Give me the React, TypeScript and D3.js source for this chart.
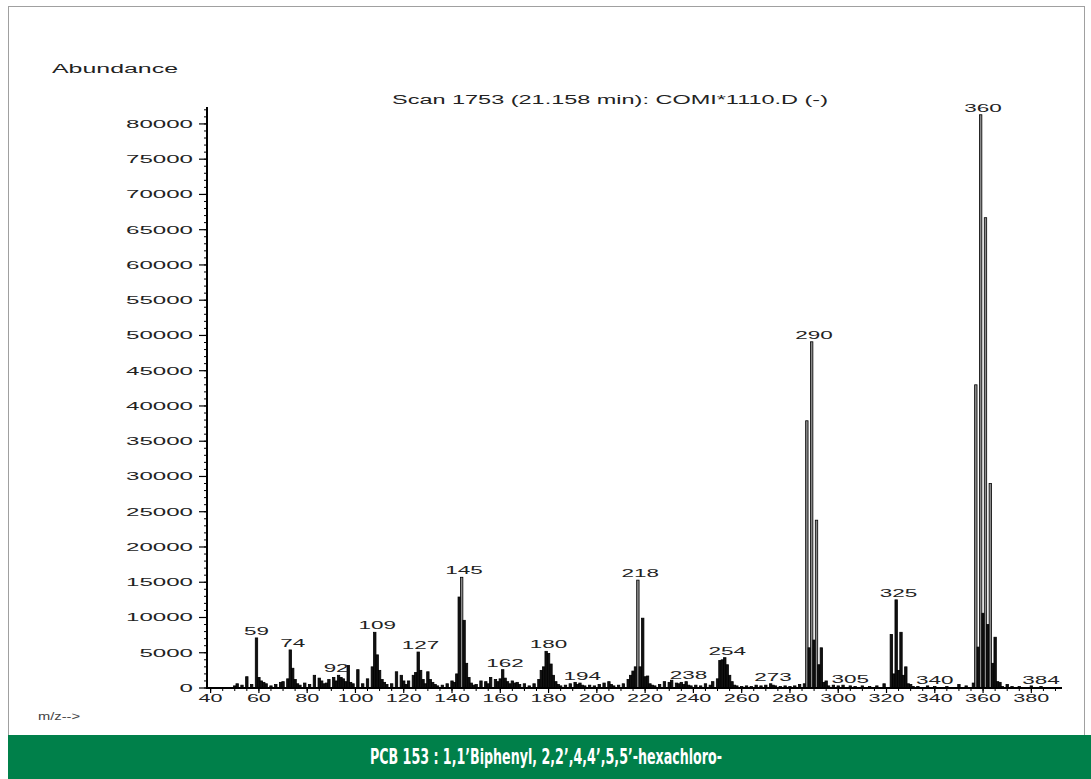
import * as d3 from "d3";

// m/z values and their abundance
const mz: number[] = [
  50, 51, 53, 55, 57, 59, 60, 61, 62, 63, 65, 67, 69, 70, 72, 73, 74, 75, 76, 77, 79, 81, 83, 85, 86, 87, 88, 89,
  91, 92, 93, 94, 95, 96, 97, 98, 99, 101, 103, 105, 107, 108, 109, 110, 111, 112, 113, 115, 117, 119, 120, 121,
  122, 124, 125, 126, 127, 128, 129, 130, 131, 132, 133, 134, 136, 138, 140, 141, 142, 143, 144, 145, 146, 147,
  148, 149, 150, 152, 154, 155, 156, 158, 159, 160, 161, 162, 163, 164, 165, 166, 167, 168, 170, 172, 174, 176,
  177, 178, 179, 180, 181, 182, 183, 184, 185, 187, 189, 191, 192, 193, 194, 195, 197, 199, 201, 203, 205, 206,
  207, 209, 211, 213, 214, 215, 216, 217, 218, 219, 220, 221, 222, 223, 224, 226, 228, 230, 231, 233, 234, 235,
  236, 237, 238, 239, 241, 243, 245, 247, 248, 250, 251, 252, 253, 254, 255, 256, 257, 258, 260, 262, 264, 266,
  268, 270, 272, 273, 274, 276, 278, 280, 282, 284, 286, 287, 288, 289, 290, 291, 292, 293, 294, 295, 296, 298,
  300, 302, 305, 307, 310, 313, 316, 319, 322, 323, 324, 325, 326, 327, 328, 329, 330, 331, 333, 337, 340, 345,
  350, 353, 356, 357, 358, 359, 360, 361, 362, 363, 364, 365, 366, 367, 368, 370, 372, 375, 380, 384, 388,
];
const abundance: number[] = [
  300, 600, 400, 1600, 500, 7100, 1500, 1000, 800, 600, 300, 500, 800, 900, 1300, 5400, 2800, 1200, 600, 400, 700,
  500, 1800, 1400, 1000, 600, 700, 1200, 1500, 1000, 1800, 1500, 1300, 900, 3200, 800, 600, 2600, 600, 1300, 3000,
  7900, 4700, 2500, 1200, 800, 500, 600, 2300, 1800, 1000, 500, 1000, 1800, 2200, 5100, 2500, 1200, 600, 2300,
  1200, 800, 500, 300, 400, 600, 1000, 800, 2000, 12900, 15700, 9600, 3500, 1500, 700, 400, 500, 1000, 900, 600,
  1500, 1200, 900, 1300, 2600, 1400, 900, 600, 1000, 700, 800, 500, 600, 300, 600, 1200, 2500, 3000, 5200, 4900,
  3400, 1800, 900, 500, 300, 400, 600, 800, 500, 700, 400, 300, 400, 300, 500, 700, 900, 500, 300, 400, 600, 1200,
  1800, 2400, 3000, 15300, 3000, 9900, 1600, 1700, 600, 400, 300, 500, 900, 800, 1100, 700, 600, 800, 500, 900,
  400, 300, 400, 300, 600, 400, 900, 1300, 3900, 4000, 4300, 3300, 1800, 900, 400, 300, 200, 300, 200, 400, 300,
  400, 600, 400, 300, 200, 300, 200, 300, 500, 600, 37900, 5700, 49100, 6800, 23800, 3300, 5700, 800, 1000, 300,
  400, 300, 400, 300, 200, 300, 200, 300, 600, 7600, 2000, 12500, 2500, 7900, 1800, 3000, 600, 500, 200, 200,
  300, 200, 200, 500, 300, 700, 43000, 5800, 81300, 10600, 66700, 9000, 29000, 3500, 7200, 900, 800, 200, 500,
  200, 200, 300, 200,
];

// labelled peaks
const peakLabels: number[] = [59, 74, 92, 109, 127, 145, 162, 180, 194, 218, 238, 254, 273, 290, 305, 325, 340, 360, 384];

const yTicks: number[] = [0, 5000, 10000, 15000, 20000, 25000, 30000, 35000, 40000, 45000, 50000, 55000, 60000, 65000, 70000, 75000, 80000];
const xTicks: number[] = [40, 60, 80, 100, 120, 140, 160, 180, 200, 220, 240, 260, 280, 300, 320, 340, 360, 380];

const title = "Scan 1753 (21.158 min): COMI*1110.D (-)";
const caption = "PCB 153 : 1,1\u2019Biphenyl, 2,2\u2019,4,4\u2019,5,5\u2019-hexachloro-";

export default function App() {
  const width = 1091;
  const height = 779;
  const x = d3.scaleLinear().domain([38.5, 392.7]).range([207, 1062]);
  const y = d3.scaleLinear().domain([0, 82400]).range([688, 107]);
  const font = "'Liberation Sans', Arial, sans-serif";
  const bw = 2.4;

  const minorY = d3.range(0, 82001, 1000);
  const minorX = d3.range(40, 391, 5);

  const abOf = (m: number) => {
    let best = 0;
    mz.forEach((v, i) => {
      if (Math.abs(v - m) <= 1) best = Math.max(best, abundance[i]);
    });
    return best;
  };

  return (
    <svg width={width} height={height} style={{ position: "fixed", left: 0, top: 0, background: "#fff" }}>
      <rect x={8.5} y={6.5} width={1076} height={740} fill="none" stroke="#a0a0a0" strokeWidth={1} />

      <text x={52} y={73} fontFamily={font} fontSize={12} textLength={126} lengthAdjust="spacingAndGlyphs" fill="#222">
        Abundance
      </text>
      <text x={392} y={104} fontFamily={font} fontSize={12} textLength={436} lengthAdjust="spacingAndGlyphs" fill="#222">
        {title}
      </text>

      {/* sticks: tall ones look like thin grey outlined lines, low clusters solid black */}
      <g>
        {mz.map((m, i) => (
          <rect
            key={m}
            x={x(m) - bw / 2}
            y={y(abundance[i])}
            width={bw}
            height={y(0) - y(abundance[i])}
            fill={abundance[i] > 13000 ? "#8a8a8a" : "#111"}
            stroke="#000"
            strokeWidth={0.8}
          />
        ))}
      </g>

      {/* y axis */}
      <line x1={207} x2={207} y1={y(82400)} y2={y(0) + 1} stroke="#000" strokeWidth={2} />
      {minorY.map((v) => (
        <line key={v} x1={204} x2={207} y1={y(v)} y2={y(v)} stroke="#000" strokeWidth={1} />
      ))}
      {yTicks.map((v) => (
        <g key={v}>
          <line x1={199} x2={207} y1={y(v)} y2={y(v)} stroke="#000" strokeWidth={1.2} />
          <text
            x={193}
            y={y(v) + 4}
            textAnchor="end"
            fontFamily={font}
            fontSize={11}
            textLength={String(v).length * 13.4}
            lengthAdjust="spacingAndGlyphs"
            fill="#222"
          >
            {v}
          </text>
        </g>
      ))}

      {/* x axis */}
      <line x1={206} x2={1062} y1={y(0)} y2={y(0)} stroke="#000" strokeWidth={2} />
      {minorX.map((v) => (
        <line key={v} x1={x(v)} x2={x(v)} y1={y(0)} y2={y(0) + 3} stroke="#000" strokeWidth={1} />
      ))}
      {xTicks.map((v) => (
        <g key={v}>
          <line x1={x(v)} x2={x(v)} y1={y(0)} y2={y(0) + 5} stroke="#000" strokeWidth={1.2} />
          <text
            x={x(v)}
            y={702}
            textAnchor="middle"
            fontFamily={font}
            fontSize={11}
            textLength={String(v).length * 12}
            lengthAdjust="spacingAndGlyphs"
            fill="#222"
          >
            {v}
          </text>
        </g>
      ))}

      {/* peak labels */}
      {peakLabels.map((m) => (
        <text
          key={m}
          x={x(m)}
          y={y(abOf(m)) - 3}
          textAnchor="middle"
          fontFamily={font}
          fontSize={11}
          textLength={String(m).length * 12.5}
          lengthAdjust="spacingAndGlyphs"
          fill="#222"
        >
          {m}
        </text>
      ))}

      <text x={38} y={720} fontFamily={font} fontSize={10} textLength={42} lengthAdjust="spacingAndGlyphs" fill="#444">
        m/z--&gt;
      </text>

      <rect x={8} y={735} width={1083} height={44} fill="#00804a" />
      <text
        x={546}
        y={764}
        textAnchor="middle"
        fontFamily="'Liberation Sans Narrow', 'DejaVu Sans Condensed', 'Liberation Sans', sans-serif"
        fontWeight="bold"
        fontSize={21}
        textLength={352}
        lengthAdjust="spacingAndGlyphs"
        fill="#fff"
      >
        {caption}
      </text>
    </svg>
  );
}
